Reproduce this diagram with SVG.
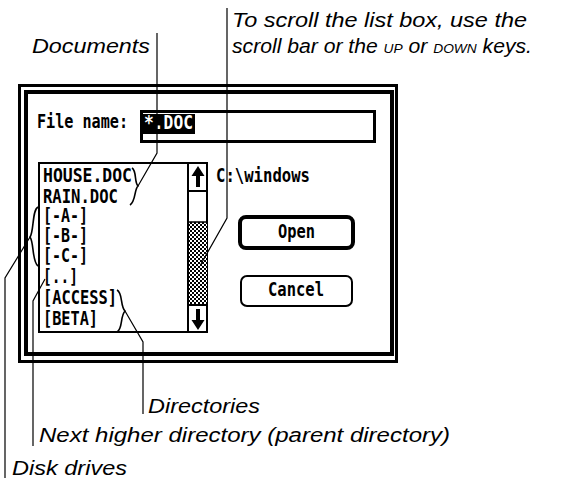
<svg xmlns="http://www.w3.org/2000/svg" width="584" height="480" viewBox="0 0 584 480">
<defs>
<pattern id="dither" width="4" height="4" patternUnits="userSpaceOnUse">
<rect width="4" height="4" fill="#fff"/>
<rect width="2" height="2" fill="#000"/>
<rect x="2" y="2" width="2" height="2" fill="#000"/>
</pattern>
<style>
.sys{font-family:"DejaVu Sans Mono","Liberation Mono",monospace;font-weight:bold;font-size:19px;fill:#000}
.lbl{font-family:"Liberation Sans",Arial,sans-serif;font-style:italic;font-size:20px;fill:#000}
.sc{font-size:13px}
.ln{fill:none;stroke:#000;stroke-width:1.2}
.br{fill:none;stroke:#000;stroke-width:1.6}
</style>
</defs>
<rect width="584" height="480" fill="#fff"/>

<g id="dialog">
<rect x="19.5" y="85.5" width="377" height="276" fill="#fff" stroke="#000" stroke-width="3"/>
<rect x="26" y="92" width="366" height="262" fill="none" stroke="#000" stroke-width="4"/>
</g>

<g id="filename">
<text class="sys" x="37" y="128" textLength="91" lengthAdjust="spacingAndGlyphs">File name:</text>
<rect x="141.5" y="111.5" width="233" height="30" fill="#fff" stroke="#000" stroke-width="3"/>
<rect x="143" y="114" width="52" height="20" fill="#000"/>
<text class="sys" x="144" y="129" textLength="49" lengthAdjust="spacingAndGlyphs" style="fill:#fff">*.DOC</text>
</g>

<g id="listbox">
<rect x="39" y="163" width="168" height="169" fill="#fff" stroke="#000" stroke-width="2"/>
<text class="sys" x="43" y="182" textLength="89" lengthAdjust="spacingAndGlyphs">HOUSE.DOC</text>
<text class="sys" x="43" y="203" textLength="75" lengthAdjust="spacingAndGlyphs">RAIN.DOC</text>
<text class="sys" x="43" y="222" textLength="45" lengthAdjust="spacingAndGlyphs">[-A-]</text>
<text class="sys" x="43" y="242" textLength="45" lengthAdjust="spacingAndGlyphs">[-B-]</text>
<text class="sys" x="43" y="262" textLength="45" lengthAdjust="spacingAndGlyphs">[-C-]</text>
<text class="sys" x="43" y="283" textLength="35" lengthAdjust="spacingAndGlyphs">[..]</text>
<text class="sys" x="43" y="304" textLength="74" lengthAdjust="spacingAndGlyphs">[ACCESS]</text>
<text class="sys" x="43" y="325" textLength="55" lengthAdjust="spacingAndGlyphs">[BETA]</text>
</g>

<g id="scrollbar">
<rect x="189" y="222" width="18" height="83" fill="url(#dither)"/>
<line x1="188" y1="163" x2="188" y2="332" stroke="#000" stroke-width="2"/>
<line x1="188" y1="191" x2="207" y2="191" stroke="#000" stroke-width="2"/>
<line x1="188" y1="222" x2="207" y2="222" stroke="#000" stroke-width="1.5"/>
<line x1="188" y1="305" x2="207" y2="305" stroke="#000" stroke-width="2"/>
<path d="M198,166 L204.5,176 L200,176 L200,187 L196,187 L196,176 L191.5,176 Z" fill="#000"/>
<path d="M198,330 L204.5,320 L200,320 L200,309 L196,309 L196,320 L191.5,320 Z" fill="#000"/>
</g>

<g id="directory">
<text class="sys" x="216" y="182" textLength="94" lengthAdjust="spacingAndGlyphs">C:\windows</text>
</g>

<g id="open">
<rect x="240" y="217" width="113" height="31" rx="6" fill="#fff" stroke="#000" stroke-width="4"/>
<text class="sys" x="278" y="238" textLength="37" lengthAdjust="spacingAndGlyphs">Open</text>
</g>

<g id="cancel">
<rect x="241" y="276" width="111" height="30" rx="6" fill="#fff" stroke="#000" stroke-width="2"/>
<text class="sys" x="268" y="296" textLength="56" lengthAdjust="spacingAndGlyphs">Cancel</text>
</g>

<g id="connectors">
<path class="br" d="M132,168 C137,171 134,182 138,186 C134,190 136,201 130,205"/>
<path class="br" d="M38,207 C32,210 34,232 30,237 C34,242 32,262 38,266"/>
<path class="br" d="M117,290 C123,293 120,306 125,311 C120,316 123,329 117,332"/>
<path class="ln" d="M157,33 V153 L138,186"/>
<path class="ln" d="M227,8 V218 L201,264"/>
<path class="ln" d="M30,237 L5,278 V478"/>
<path class="ln" d="M45,279 L33,301 V446"/>
<path class="ln" d="M125,311 L143,342 V414"/>
</g>

<g id="labels">
<text class="lbl" x="32" y="53" textLength="118" lengthAdjust="spacingAndGlyphs">Documents</text>
<text class="lbl" x="232" y="27" textLength="295" lengthAdjust="spacingAndGlyphs">To scroll the list box, use the</text>
<text class="lbl" x="232" y="53" textLength="300" lengthAdjust="spacingAndGlyphs">scroll bar or the <tspan class="sc">UP</tspan> or <tspan class="sc">DOWN</tspan> keys.</text>
<text class="lbl" x="148" y="413" textLength="112" lengthAdjust="spacingAndGlyphs">Directories</text>
<text class="lbl" x="39" y="442" textLength="411" lengthAdjust="spacingAndGlyphs">Next higher directory (parent directory)</text>
<text class="lbl" x="12" y="475" textLength="115" lengthAdjust="spacingAndGlyphs">Disk drives</text>
</g>
</svg>
